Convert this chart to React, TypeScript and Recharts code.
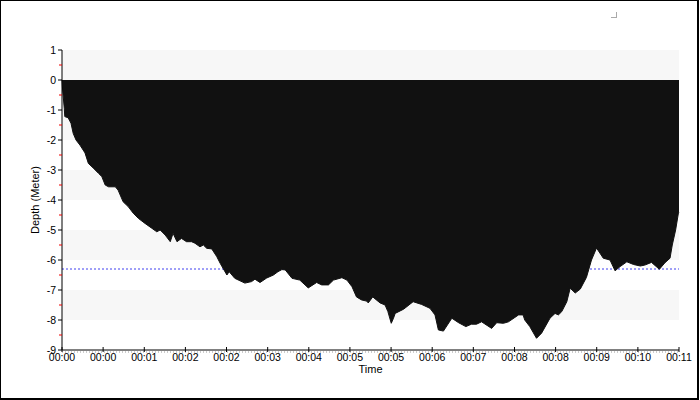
import { AreaChart, Area, XAxis, YAxis, ReferenceArea, ReferenceLine } from 'recharts';

// time in minutes, depth in metres (negative = below surface)
const times = [
  0, 0.01, 0.04, 0.05, 0.11, 0.16, 0.2, 0.25, 0.32, 0.41, 0.47, 0.56, 0.65, 0.71, 0.77, 0.83,
  0.95, 1.0, 1.09, 1.18, 1.27, 1.36, 1.48, 1.6, 1.69, 1.75, 1.84, 1.93, 1.98, 2.05, 2.13, 2.22,
  2.31, 2.37, 2.46, 2.52, 2.58, 2.67, 2.76, 2.82, 2.94, 2.98, 3.08, 3.26, 3.38, 3.44, 3.53, 3.65,
  3.77, 3.85, 3.92, 3.98, 4.1, 4.24, 4.39, 4.54, 4.63, 4.75, 4.84, 4.99, 5.08, 5.17, 5.25, 5.34,
  5.43, 5.46, 5.54, 5.67, 5.76, 5.81, 5.87, 5.91, 5.94, 6.09, 6.26, 6.41, 6.56, 6.65, 6.71, 6.8,
  6.95, 7.07, 7.2, 7.3, 7.39, 7.48, 7.66, 7.75, 7.87, 7.96, 8.14, 8.22, 8.25, 8.34, 8.46, 8.55,
  8.7, 8.79, 8.85, 8.91, 9.0, 9.06, 9.15, 9.24, 9.35, 9.44, 9.53, 9.65, 9.77, 9.86, 9.95, 10.07,
  10.19, 10.31, 10.39, 10.51, 10.65, 10.75, 10.84, 10.88, 10.94, 10.99, 11,
];
const depths = [
  0, -0.3, -0.94, -1.22, -1.26, -1.44, -1.78, -2.0, -2.17, -2.43, -2.78, -2.94, -3.11, -3.22, -3.5, -3.56,
  -3.56, -3.67, -4.06, -4.22, -4.44, -4.61, -4.78, -4.94, -5.06, -5.0, -5.17, -5.39, -5.11, -5.39, -5.28, -5.39,
  -5.39, -5.44, -5.56, -5.5, -5.61, -5.63, -5.89, -6.11, -6.5, -6.39, -6.61, -6.77, -6.72, -6.64, -6.75, -6.6,
  -6.5, -6.39, -6.32, -6.33, -6.61, -6.67, -6.93, -6.75, -6.83, -6.83, -6.67, -6.59, -6.67, -6.89, -7.23, -7.33,
  -7.37, -7.43, -7.23, -7.43, -7.5, -7.72, -8.11, -7.94, -7.78, -7.64, -7.39, -7.48, -7.61, -7.83, -8.33, -8.37,
  -7.94, -8.09, -8.22, -8.14, -8.14, -8.06, -8.28, -8.09, -8.11, -8.06, -7.83, -7.83, -8.0, -8.22, -8.61, -8.44,
  -7.94, -7.78, -7.83, -7.72, -7.39, -6.94, -7.1, -6.97, -6.58, -6.0, -5.6, -5.94, -6.0, -6.36, -6.22, -6.06,
  -6.15, -6.2, -6.17, -6.08, -6.31, -6.09, -5.94, -5.5, -5.0, -4.43, -4.4,
];

const averageDepth = -6.3;

const xTicks = [0, 0.733, 1.467, 2.2, 2.933, 3.667, 4.4, 5.133, 5.867, 6.6, 7.333, 8.067, 8.8, 9.533, 10.267, 11];
const xTickLabels = ['00:00', '00:00', '00:01', '00:02', '00:02', '00:03', '00:04', '00:05', '00:05', '00:06', '00:07', '00:08', '00:08', '00:09', '00:10', '00:11'];
const yTicks = [1, 0.5, 0, -0.5, -1, -1.5, -2, -2.5, -3, -3.5, -4, -4.5, -5, -5.5, -6, -6.5, -7, -7.5, -8, -8.5, -9];
const bands = [[1, 0], [-1, -2], [-3, -4], [-5, -6], [-7, -8]];

const data = times.map((t, i) => ({ t, depth: depths[i] }));

const FONT = '"Liberation Sans", Arial, sans-serif';

function YTick({ x, y, payload }: any) {
  const v = payload.value;
  if (!Number.isInteger(v)) {
    return <line x1={x - 3} x2={x} y1={y} y2={y} stroke="#e00" />;
  }
  return (
    <g>
      <line x1={x - 4} x2={x} y1={y} y2={y} stroke="#000" />
      <text x={x - 6} y={y} dy="0.35em" textAnchor="end" fontSize={10.5} fontFamily={FONT} fill="#000">{v}</text>
    </g>
  );
}

function XTick({ x, y, index }: any) {
  return (
    <g>
      <line x1={x} x2={x} y1={y - 3} y2={y + 2} stroke="#000" />
      <text x={x} y={y + 11} textAnchor="middle" fontSize={10.5} fontFamily={FONT} fill="#000">{xTickLabels[index]}</text>
    </g>
  );
}

// dashed average line, drawn in the reference-area layer so the profile covers it
function AvgLine({ x, y, width }: any) {
  return <line x1={x} x2={x + width} y1={y} y2={y} stroke="#4040f0" strokeDasharray="2 2" />;
}

export default function App() {
  return (
    <div style={{ position: 'absolute', left: 0, top: 0, width: 700, height: 400, background: '#fff' }}>
      <AreaChart width={700} height={400} data={data} margin={{ top: 50, right: 21, bottom: 20, left: 0 }}>
        {bands.map(([a, b], i) => (
          <ReferenceArea key={i} y1={a} y2={b} fill="#f7f7f7" fillOpacity={1} stroke="none" />
        ))}
        <ReferenceArea y1={averageDepth} y2={averageDepth} shape={<AvgLine />} />
        <ReferenceLine
          y={-9}
          shape={(p: any) => (
            <line x1={p.x1} x2={p.x2} y1={p.y1 + 2} y2={p.y2 + 2} stroke="#999" strokeDasharray="1 2" />
          )}
        />
        <XAxis
          dataKey="t"
          type="number"
          domain={[0, 11]}
          ticks={xTicks}
          interval={0}
          tickSize={0}
          tickMargin={0}
          height={30}
          axisLine={{ stroke: '#000' }}
          tick={<XTick />}
          label={({ viewBox }: any) => (
            <text x={viewBox.x + viewBox.width / 2} y={viewBox.y + 23} textAnchor="middle" fontSize={11} fontFamily={FONT} fill="#000">Time</text>
          )}
        />
        <YAxis
          type="number"
          domain={[-9, 1]}
          ticks={yTicks}
          interval={0}
          width={62}
          tickSize={0}
          tickMargin={0}
          axisLine={{ stroke: '#000' }}
          tick={<YTick />}
          label={({ viewBox }: any) => {
            const cx = viewBox.x + 39;
            const cy = viewBox.y + viewBox.height / 2;
            return (
              <text x={cx} y={cy} transform={`rotate(-90 ${cx} ${cy})`} textAnchor="middle" fontSize={11} fontFamily={FONT} fill="#000">Depth (Meter)</text>
            );
          }}
        />
        <Area
          type="linear"
          dataKey="depth"
          baseValue={0}
          stroke="#111"
          strokeWidth={1}
          fill="#111"
          fillOpacity={1}
          isAnimationActive={false}
          dot={false}
          activeDot={false}
        />
      </AreaChart>
      <div style={{ position: 'absolute', left: 611, top: 12, width: 5, height: 5, borderRight: '1px solid #aaa', borderBottom: '1px solid #aaa' }} />
      <div style={{ position: 'absolute', left: 0, top: 0, width: 699, height: 400, boxSizing: 'border-box', borderTop: '1px solid #000', borderLeft: '1px solid #000', borderRight: '2px solid #000', borderBottom: '2px solid #000', pointerEvents: 'none' }} />
    </div>
  );
}
